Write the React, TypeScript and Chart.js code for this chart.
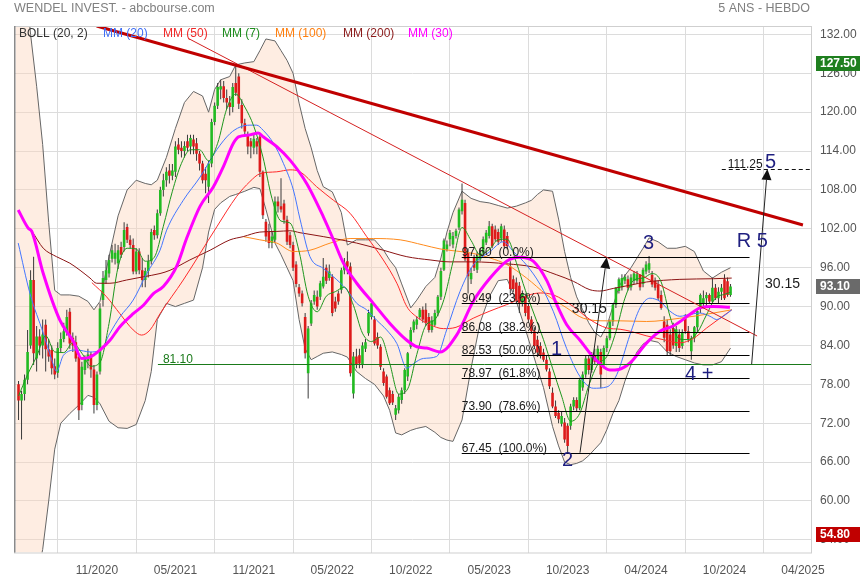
import React, { useEffect, useRef } from "react";
import { Chart, registerables } from "chart.js";

Chart.register(...registerables);

// ---------- weekly candles (week index 1..237) ----------
const FIRST_WEEK = 1;
const opens = [
  78.0, 75.5, 76.5, 78.7, 84.0, 94.1, 82.0, 85.4, 84.0, 87.2,
  83.4, 83.3, 80.8, 79.8, 83.6, 85.0, 86.1, 89.2, 85.2, 84.5,
  82.3, 74.8, 80.2, 81.6, 82.6, 80.3, 74.8, 80.0, 91.0, 94.1,
  95.1, 97.4, 97.4, 96.7, 99.2, 99.2, 102.3, 100.3, 99.5, 95.4,
  98.5, 95.6, 94.1, 95.5, 97.0, 101.8, 101.0, 104.4, 108.0, 109.5,
  111.0, 110.2, 110.8, 115.0, 114.5, 114.0, 115.5, 114.7, 115.8, 115.2,
  113.6, 112.1, 110.5, 108.5, 112.1, 118.5, 121.0, 123.5, 124.0, 122.2,
  121.5, 120.8, 124.5, 125.5, 121.1, 118.3, 116.5, 115.5, 114.5, 115.5,
  116.2, 110.8, 103.1, 101.5, 99.8, 100.3, 106.2, 105.5, 105.9, 103.4,
  101.0, 99.5, 96.5, 93.0, 92.0, 88.4, 79.7, 87.4, 90.8, 91.5,
  91.5, 93.1, 96.0, 94.4, 94.6, 90.8, 92.0, 92.6, 95.6, 97.0,
  96.2, 76.6, 82.3, 82.5, 81.0, 83.5, 85.9, 88.4, 88.0, 85.3,
  83.8, 80.0, 79.2, 77.1, 76.5, 73.3, 74.0, 75.6, 77.1, 79.2,
  83.8, 86.4, 87.2, 88.4, 89.5, 89.5, 88.4, 86.4, 87.2, 89.0,
  91.5, 95.7, 98.8, 100.4, 99.6, 100.9, 102.2, 104.7, 106.0, 98.3,
  94.2, 97.5, 95.7, 97.3, 98.3, 99.9, 100.9, 102.4, 101.9, 101.5,
  100.5, 101.9, 100.9, 96.2, 94.2, 93.7, 93.2, 90.6, 91.6, 90.1,
  88.0, 86.2, 84.9, 83.9, 82.9, 81.8, 80.0, 76.7, 74.6, 73.6,
  71.9, 72.1, 71.6, 71.6, 74.6, 75.6, 74.3, 77.5, 79.5, 82.0,
  80.2, 82.5, 81.5, 83.0, 81.0, 83.6, 85.1, 87.7, 90.3, 92.4,
  93.0, 94.0, 94.2, 93.0, 94.0, 94.0, 94.9, 93.5, 95.4, 95.7,
  94.9, 94.0, 93.4, 91.8, 87.7, 87.2, 85.7, 86.7, 83.9, 85.7,
  83.9, 88.2, 86.2, 83.1, 85.1, 86.8, 89.8, 90.5, 91.3, 91.8,
  90.8, 92.9, 91.3, 92.3, 94.2, 93.9, 91.8,
];
const highs = [
  78.5, 77.0, 79.5, 86.4, 95.6, 97.7, 87.0, 86.5, 88.0, 88.0,
  85.0, 84.0, 82.0, 84.5, 86.0, 87.5, 89.5, 89.8, 86.0, 85.5,
  82.8, 81.5, 82.5, 83.5, 83.0, 81.0, 80.0, 90.5, 95.5, 97.2,
  98.0, 99.5, 99.7, 99.5, 100.0, 103.0, 102.8, 101.0, 100.5, 99.0,
  99.0, 97.5, 96.0, 98.0, 102.0, 102.5, 105.0, 108.5, 110.5, 111.5,
  112.0, 112.0, 115.5, 116.0, 115.5, 115.5, 116.5, 116.5, 116.5, 116.0,
  114.0, 112.5, 111.5, 112.5, 119.0, 121.5, 124.5, 125.0, 124.8, 123.5,
  122.5, 124.5, 127.5, 126.0, 122.0, 119.0, 117.0, 116.0, 116.5, 116.0,
  116.5, 111.0, 103.5, 102.8, 101.5, 107.0, 107.0, 109.8, 106.5, 104.0,
  101.5, 100.0, 97.0, 93.5, 92.5, 89.0, 87.0, 91.0, 92.5, 92.5,
  94.0, 97.5, 96.5, 96.5, 95.0, 91.5, 92.5, 96.0, 97.5, 98.5,
  96.8, 83.0, 83.5, 83.5, 84.5, 85.0, 89.5, 91.0, 88.5, 86.0,
  84.2, 80.5, 79.5, 77.5, 77.0, 74.8, 76.5, 77.5, 80.5, 83.0,
  86.8, 88.0, 88.5, 89.8, 90.0, 90.5, 89.0, 88.5, 89.5, 91.8,
  96.0, 100.5, 100.2, 101.8, 101.5, 102.0, 105.3, 109.0, 106.5, 99.0,
  96.0, 98.0, 98.5, 99.0, 100.8, 101.8, 103.2, 102.8, 102.5, 102.0,
  102.8, 102.5, 101.5, 97.0, 94.8, 94.5, 93.8, 92.5, 92.0, 90.5,
  88.5, 86.8, 85.5, 84.5, 83.5, 82.5, 80.5, 77.5, 75.5, 74.0,
  73.8, 72.8, 72.0, 75.0, 76.0, 76.0, 79.0, 80.0, 82.5, 82.5,
  83.0, 83.5, 84.0, 83.5, 84.0, 85.5, 88.0, 90.5, 93.0, 94.5,
  95.0, 95.0, 94.8, 95.0, 95.5, 95.5, 95.0, 96.0, 97.0, 97.8,
  95.5, 94.5, 94.0, 92.5, 88.5, 88.0, 86.5, 87.5, 87.0, 86.5,
  86.5, 88.8, 87.0, 85.5, 87.0, 89.5, 92.0, 92.5, 92.2, 92.0,
  94.5, 93.5, 93.0, 93.5, 95.0, 94.5, 93.5,
];
const lows = [
  72.5, 69.5, 75.5, 78.0, 83.5, 81.0, 80.0, 82.5, 82.0, 80.0,
  81.5, 79.5, 78.8, 79.0, 83.0, 84.5, 85.5, 83.5, 83.0, 81.5,
  72.5, 74.0, 79.5, 80.5, 79.0, 73.5, 74.0, 79.5, 90.0, 93.5,
  94.5, 96.8, 96.5, 95.8, 97.5, 98.5, 99.8, 99.0, 95.0, 95.0,
  95.0, 93.0, 93.0, 94.5, 96.5, 100.3, 100.5, 104.0, 107.0, 108.5,
  109.0, 109.5, 110.0, 113.5, 113.0, 113.0, 114.0, 113.5, 113.5, 112.5,
  111.0, 109.0, 107.5, 106.0, 111.5, 118.0, 120.5, 122.0, 121.5, 120.5,
  119.5, 120.0, 122.5, 120.5, 117.5, 116.5, 113.5, 112.9, 113.5, 113.5,
  110.0, 103.5, 100.0, 99.0, 99.0, 100.0, 104.5, 104.5, 102.8, 99.5,
  99.0, 95.5, 93.0, 91.5, 90.0, 82.0, 75.8, 87.0, 90.3, 89.5,
  91.0, 92.8, 93.5, 94.0, 88.5, 89.2, 90.3, 92.0, 95.0, 95.0,
  79.2, 75.8, 80.5, 80.5, 80.5, 83.0, 85.5, 88.0, 84.0, 83.5,
  80.2, 77.8, 75.8, 74.8, 74.8, 72.5, 73.5, 75.0, 76.5, 78.5,
  83.5, 86.0, 86.5, 88.0, 87.5, 87.0, 86.0, 86.0, 87.0, 88.5,
  91.0, 95.5, 98.5, 99.3, 99.0, 100.5, 101.8, 104.2, 97.0, 92.0,
  93.5, 95.5, 95.2, 97.0, 98.0, 99.5, 100.5, 99.0, 100.0, 99.5,
  100.0, 99.0, 98.8, 92.0, 92.2, 90.5, 89.0, 90.0, 88.5, 87.5,
  85.8, 83.5, 82.5, 82.0, 81.5, 80.0, 77.3, 74.3, 72.8, 72.0,
  71.5, 69.0, 67.45, 71.0, 74.0, 73.8, 74.0, 77.0, 79.0, 79.5,
  79.8, 81.0, 81.0, 77.4, 80.5, 83.0, 84.8, 87.0, 89.8, 92.0,
  92.5, 93.5, 92.5, 92.5, 93.5, 93.5, 92.5, 93.0, 95.0, 95.2,
  93.0, 92.5, 91.0, 89.5, 84.5, 82.5, 82.5, 83.5, 83.0, 83.0,
  83.5, 85.8, 84.5, 81.8, 84.5, 86.0, 89.0, 90.0, 90.0, 90.5,
  90.5, 91.0, 90.5, 91.0, 91.0, 91.5, 91.5,
];
const closes = [
  75.5, 76.5, 78.7, 83.0, 94.1, 82.8, 85.4, 84.0, 85.7, 83.4,
  82.3, 80.5, 79.5, 83.6, 85.0, 86.2, 88.4, 84.3, 84.0, 82.0,
  74.0, 80.7, 81.9, 82.6, 80.3, 74.8, 79.5, 89.7, 94.4, 95.6,
  97.2, 98.7, 98.3, 98.7, 98.0, 101.8, 100.3, 99.5, 95.4, 98.5,
  95.6, 94.1, 95.5, 97.0, 101.5, 101.0, 104.4, 108.0, 109.5, 110.8,
  110.2, 111.0, 114.7, 114.2, 114.0, 114.8, 114.5, 116.0, 114.7, 113.6,
  112.1, 109.5, 109.5, 112.1, 118.5, 121.0, 123.9, 124.0, 122.2, 121.5,
  120.8, 123.9, 123.0, 121.3, 118.3, 117.0, 114.7, 114.7, 115.9, 114.7,
  110.8, 104.1, 100.8, 99.8, 100.8, 106.2, 105.5, 105.0, 103.4, 100.0,
  99.5, 96.0, 93.5, 92.0, 90.5, 82.8, 86.6, 90.5, 91.8, 90.0,
  93.6, 94.6, 94.0, 95.4, 89.0, 89.7, 90.8, 95.6, 96.8, 96.2,
  79.7, 82.3, 81.0, 81.2, 84.0, 84.5, 89.0, 90.5, 84.3, 84.0,
  80.7, 78.2, 76.1, 75.1, 75.2, 74.3, 76.1, 77.1, 80.2, 82.8,
  86.4, 87.7, 88.0, 89.5, 88.0, 87.5, 86.4, 87.9, 89.0, 91.5,
  95.5, 100.2, 99.6, 101.4, 100.9, 101.7, 105.0, 106.5, 97.3, 94.7,
  95.2, 96.0, 97.8, 98.3, 100.4, 101.4, 102.4, 99.3, 100.4, 100.0,
  102.4, 99.3, 99.3, 92.7, 92.7, 91.1, 90.6, 92.1, 89.0, 88.0,
  86.2, 83.9, 82.9, 82.4, 81.8, 80.3, 77.7, 74.6, 73.1, 72.6,
  73.1, 69.5, 68.5, 74.6, 75.6, 74.3, 78.7, 79.5, 82.0, 80.2,
  82.5, 81.5, 83.5, 79.5, 83.6, 85.1, 87.7, 90.3, 92.9, 94.2,
  94.4, 94.6, 92.9, 94.5, 95.1, 95.0, 93.0, 95.7, 96.5, 96.7,
  93.4, 92.9, 91.3, 89.8, 85.2, 83.1, 83.1, 84.0, 86.5, 83.6,
  86.0, 86.2, 85.0, 85.1, 86.8, 89.3, 91.8, 91.3, 91.8, 90.8,
  92.9, 91.3, 92.3, 92.9, 91.3, 91.8, 93.1,
];

// ---------- axes ----------
const xTickWeeks = [27, 53, 79, 105, 131, 157, 183, 209, 235, 261];
const xTickLabels = ["11/2020", "05/2021", "11/2021", "05/2022", "10/2022", "05/2023", "10/2023", "04/2024", "10/2024", "04/2025"];
const yTicks = [54, 60, 66, 72, 78, 84, 90, 96, 102, 108, 114, 120, 126, 132];

// ---------- Bollinger (20, 2) ----------
const bandWeeks = [0, 3, 5, 7, 9, 11, 13, 15, 18, 21, 24, 26, 28, 31, 34, 37, 40, 43, 45, 47, 50, 53, 56, 59, 62, 64, 66, 68, 71, 73, 76, 79, 81, 83, 86, 88, 90, 92, 94, 96, 98, 100, 102, 105, 108, 110, 113, 116, 119, 122, 124, 126, 128, 131, 133, 136, 139, 141, 143, 145, 148, 151, 154, 157, 160, 163, 166, 169, 171, 173, 175, 178, 180, 182, 184, 186, 188, 190, 192, 194, 196, 198, 200, 202, 204, 206, 208, 210, 213, 216, 219, 222, 225, 228, 231, 234, 237];
const bollUpper = [157, 142, 132, 124, 115, 103, 92.5, 91.8, 91.8, 91.6, 90.8, 89.5, 90.8, 97.7, 104, 108, 109.5, 109, 108.8, 109.5, 113, 117.5, 121.5, 123.2, 122.5, 120, 123.5, 125, 125.5, 127.3, 127.6, 127.8, 129.5, 131.3, 131, 129.5, 128, 126, 121.4, 117.5, 114.5, 111, 108.5, 107.7, 104.5, 99.5, 100.3, 100.3, 100.3, 98.7, 97.2, 96, 93.5, 89.8, 91, 93.1, 94.5, 97.5, 101.5, 104.5, 107.8, 106.7, 106.2, 106, 105.6, 105.2, 105.5, 106, 106.4, 107.3, 108, 107.8, 103.5, 98.5, 94.5, 91.5, 89.5, 87.5, 86, 85.3, 87, 90, 93, 94.8, 96, 97.5, 99, 100.6, 100, 99, 99, 99.3, 98.5, 95.5, 94.4, 95.3, 96];
const bollLower = [40, 42, 45, 48, 52.5, 60, 68, 72, 73.5, 74.8, 76.3, 76, 75, 72.3, 71.3, 71.2, 71.8, 75.5, 80, 88, 90.5, 90, 90.5, 91, 96, 101.5, 105, 106, 107, 107.3, 107.8, 108.4, 108.2, 105, 99.8, 98, 96, 94, 88, 83.5, 81.8, 82.3, 82.8, 83, 82.6, 82.2, 80, 78.9, 78, 76.2, 74, 70.5, 70.2, 70.9, 71.2, 71.5, 70.6, 69.8, 69.4, 69.2, 72.5, 80.5, 87.5, 91.5, 94, 94.2, 90.8, 86.5, 83.5, 80.5, 77.5, 71.5, 68.5, 66, 65.6, 65.8, 66.2, 67, 68, 69, 71, 73.5, 75.5, 78.5, 81, 83, 84.2, 84.8, 84.5, 83, 82.3, 81.8, 81.3, 81, 81, 81.5, 83.6];

// ---------- moving averages [week, value] ----------
const mm7 = [[1, 76.2], [4, 79.5], [7, 82.3], [10, 85.5], [13, 83.0], [16, 82.9], [19, 84.4], [22, 82.8], [25, 80.8], [28, 81.4], [31, 87.4], [34, 96.1], [37, 99.0], [40, 98.9], [43, 97.0], [46, 97.6], [49, 102.4], [52, 107.8], [55, 112.1], [58, 114.2], [61, 114.2], [64, 112.5], [67, 115.2], [70, 120.5], [73, 122.8], [76, 120.8], [79, 117.8], [82, 113.1], [85, 106.7], [88, 103.2], [91, 102.9], [94, 98.5], [97, 91.6], [100, 89.2], [103, 91.6], [106, 92.3], [109, 93.0], [112, 90.2], [115, 85.9], [118, 84.6], [121, 85.3], [124, 81.3], [127, 76.5], [130, 77.3], [133, 82.6], [136, 87.1], [139, 88.0], [142, 91.1], [145, 96.9], [148, 102.2], [151, 100.2], [154, 98.0], [157, 98.8], [160, 100.3], [163, 100.4], [166, 96.8], [169, 92.5], [172, 88.7], [175, 84.9], [178, 80.5], [181, 76.2], [184, 72.3], [187, 73.5], [190, 77.8], [193, 81.1], [196, 82.3], [199, 86.1], [202, 91.3], [205, 94.1], [208, 94.4], [211, 95.1], [214, 93.8], [217, 88.4], [220, 85.0], [223, 84.9], [226, 86.0], [229, 88.7], [232, 91.3], [235, 91.9], [237, 92.2]];
const mm20 = [[0.9, 99.8], [4.8, 92], [9.2, 85.9], [12, 81.8], [13.6, 80], [15.9, 82.5], [20.3, 83.3], [24.7, 83], [28, 83.2], [31.3, 85.9], [34.6, 88.4], [39, 91], [43.5, 95.1], [47.9, 98.7], [50.1, 101.8], [55.6, 106.4], [61.2, 110], [66.7, 114.2], [71.1, 116.7], [74.4, 117.7], [77.7, 118], [79.9, 118], [82.1, 117.2], [85.5, 115.2], [88.8, 112.1], [92.1, 108], [94.3, 103.5], [97.6, 97.7], [102, 95.9], [105.4, 94.6], [109.8, 92.6], [113.1, 90.5], [116.4, 89.5], [119.7, 87.9], [123, 86.4], [126.4, 84.3], [129.7, 80.5], [131.9, 81.2], [135.2, 82], [139.6, 82.3], [142.9, 86.4], [147.3, 92.3], [151.7, 96.4], [157.3, 98.5], [161.7, 100], [165, 98.5], [169.4, 96.4], [173.9, 93.4], [178.3, 89.2], [182.7, 83.5], [187.1, 79.2], [191.5, 77.4], [196, 77.6], [199.3, 79.5], [203.7, 85.7], [207, 89.8], [210.3, 91.3], [213.6, 90.8], [216.9, 89.3], [220.2, 88.5], [223.6, 88.8], [226.9, 89], [230.2, 88.5], [232.4, 88], [234.6, 88.5], [237.4, 89.5]];
const mm30 = [[0.9, 104.9], [4.2, 102.1], [5.4, 101.6], [9.2, 95.1], [14.7, 87.9], [19.2, 84.6], [21.9, 82], [24.7, 82.2], [28, 83.3], [31.3, 84.8], [34.6, 86.9], [39, 88.9], [42.4, 90.2], [45.7, 92], [49, 93.1], [53.4, 96.2], [56.7, 100.5], [61.2, 105.5], [65.6, 108.5], [68.9, 111.6], [72.2, 115.2], [73.9, 116.2], [77.7, 116.5], [80.5, 116.8], [82.1, 116.2], [86.6, 114.7], [91, 112.6], [96.5, 109], [102, 103.9], [105.4, 100.3], [108.7, 96.7], [113.1, 93.6], [118.6, 90.5], [124.1, 87.4], [129.7, 84.8], [133, 83.8], [136.3, 83.6], [140.7, 83], [146.2, 85.6], [151.7, 90.8], [157.3, 94.4], [162.8, 97], [167.2, 97.6], [171.6, 97], [176.1, 94], [179.4, 90.3], [182.7, 87.2], [187.1, 84.8], [190.4, 82.8], [193, 81.5], [197, 80.2], [200, 80.3], [203.7, 81.3], [209.2, 84.4], [213.6, 86.2], [218, 87], [223.6, 88.8], [226.9, 89.8], [231.3, 90], [236.8, 89.9]];
const mm50 = [[25.3, 93.7], [30.2, 91.5], [34.6, 88.9], [39, 86.4], [41.8, 85.6], [44.6, 86.4], [47.9, 88.9], [55.6, 94.1], [66.7, 102.3], [73.3, 107], [77.7, 109.3], [81, 110.5], [86.6, 110.8], [91, 111.1], [94.3, 110.8], [99.8, 108.5], [105.4, 106.4], [110.9, 104.4], [116.4, 100.8], [121.9, 97.2], [126.4, 93.6], [129.7, 90], [133, 88.4], [137.4, 87.2], [141.8, 86.6], [146, 86.8], [151.7, 88.2], [162.8, 90.3], [173.9, 92.1], [178.3, 91.8], [184.9, 90], [190.4, 88], [196, 86.7], [200.4, 86.5], [203.7, 86.2], [209, 85.5], [214.7, 84.9], [220.2, 84.4], [224.7, 85.1], [229.1, 86.7], [233.5, 88.2], [237.4, 89.5]];
const mm100 = [[75.5, 100.8], [81, 100.3], [86.6, 99.8], [92.1, 98.5], [97.6, 98.7], [104.3, 99.8], [110.9, 100.5], [118.6, 100.5], [127.5, 100.3], [135.2, 99.5], [140.7, 98.9], [151.7, 98.2], [157.3, 97.5], [162.8, 96.5], [169.4, 94.4], [176.1, 91.8], [182.7, 89.8], [188.2, 88.2], [196, 87.8], [200.4, 87.8], [209.2, 87.7], [220.2, 88.2], [231.3, 89], [237.4, 89.5]];
const mm200 = [[0.9, 104.9], [4.2, 102.1], [5.4, 101.6], [9.2, 99], [13.6, 97.7], [18, 96.7], [21.4, 95.6], [24.7, 94.4], [26.9, 93.6], [31.3, 93.6], [36.8, 94.1], [42.4, 94.6], [47.9, 95.1], [51.2, 95.6], [57.8, 97.2], [64.5, 98.7], [71.1, 100.3], [75.5, 100.8], [81, 101.5], [86.6, 101.6], [91, 101.7], [94.3, 101.4], [102, 100.8], [113.1, 99.8], [121.9, 98.7], [129.7, 97.7], [137.4, 97.2], [144, 96.9], [151.7, 96.9], [162.8, 96.6], [171.6, 96.1], [179.4, 94.9], [184.9, 93.9], [190.4, 92.6], [193.7, 92.4], [198.1, 92.8], [203.7, 93.3], [209.2, 93.8], [220.2, 94.2], [231.3, 94.3], [237.4, 94.4]];

// ---------- drawn analysis ----------
const fibLevels = [97.6, 90.49, 86.08, 82.53, 78.97, 73.9, 67.45];
const fibPercents = ["0.0%", "23.6%", "38.2%", "50.0%", "61.8%", "78.6%", "100.0%"];
const fibSpan = [147.9, 243.3];
const supportLevel = 81.1;
const supportStart = 47.2;
const targetLevel = 111.25;
const targetStart = 234.1;
const majorTrend = [[26.9, 133.3], [261.0, 102.6]];
const minorTrend = [[57.2, 131.4], [245.8, 85.46]];
const arrowOne = [[187.1, 67.45], [195.95, 97.6]];
const arrowTwo = [[244.0, 81.1], [249.2, 111.25]];
const moveLabels = [{ t: "30.15", w: 184.4, v: 89.0 }, { t: "30.15", w: 248.4, v: 92.8 }];
const waveLabels = [
  { t: "1", w: 177.5, v: 82.5 },
  { t: "2", w: 181.1, v: 65.4 },
  { t: "3", w: 208.0, v: 98.9 },
  { t: "4 +", w: 221.9, v: 78.7 },
  { t: "R 5", w: 239.1, v: 99.27 },
  { t: "5", w: 248.4, v: 111.4 },
];
const priceTags = [
  { v: 127.5, bg: "#1f7f1f" },
  { v: 93.1, bg: "#6a6a6a" },
  { v: 54.8, bg: "#c00000" },
];
const legendItems = [
  { t: "BOLL (20, 2)", c: "#333333", x: 19 },
  { t: "MM (20)", c: "#3d6df5", x: 103 },
  { t: "MM (50)", c: "#f02828", x: 163 },
  { t: "MM (7)", c: "#1e8c1e", x: 222 },
  { t: "MM (100)", c: "#ff7f0e", x: 275 },
  { t: "MM (200)", c: "#8b1a1a", x: 343 },
  { t: "MM (30)", c: "#ff00ff", x: 408 },
];

const FONT = 'Arial, "Liberation Sans", sans-serif';
const f = (px: number, bold = false) => `${bold ? "bold " : ""}${px}px ${FONT}`;

const overlayPlugin = {
  id: "overlay",
  afterDatasetsDraw(chart: any) {
    const { ctx, chartArea: a } = chart;
    const xs = chart.scales.x;
    const ys = chart.scales.y;
    const X = (w: number) => xs.getPixelForValue(w);
    const Y = (v: number) => ys.getPixelForValue(v);
    const snap = (p: number) => Math.round(p) + 0.5;

    const seg = (pts: number[][], color: string, width: number) => {
      ctx.beginPath();
      ctx.strokeStyle = color;
      ctx.lineWidth = width;
      ctx.moveTo(X(pts[0][0]), Y(pts[0][1]));
      ctx.lineTo(X(pts[1][0]), Y(pts[1][1]));
      ctx.stroke();
    };
    const arrow = (pts: number[][]) => {
      const x0 = X(pts[0][0]), y0 = Y(pts[0][1]);
      const x1 = X(pts[1][0]), y1 = Y(pts[1][1]);
      const ang = Math.atan2(y1 - y0, x1 - x0);
      const len = 11, hw = 5;
      const bx = x1 - len * Math.cos(ang), by = y1 - len * Math.sin(ang);
      ctx.beginPath();
      ctx.strokeStyle = "#222";
      ctx.lineWidth = 1;
      ctx.moveTo(x0, y0);
      ctx.lineTo(bx, by);
      ctx.stroke();
      ctx.beginPath();
      ctx.fillStyle = "#111";
      ctx.moveTo(x1, y1);
      ctx.lineTo(bx + hw * Math.sin(ang), by - hw * Math.cos(ang));
      ctx.lineTo(bx - hw * Math.sin(ang), by + hw * Math.cos(ang));
      ctx.closePath();
      ctx.fill();
    };

    ctx.save();
    ctx.beginPath();
    ctx.rect(a.left, a.top, a.right - a.left, a.bottom - a.top);
    ctx.clip();

    // support line 81.10
    const sy = snap(Y(supportLevel));
    ctx.beginPath();
    ctx.strokeStyle = "#1a7a1a";
    ctx.lineWidth = 1;
    ctx.moveTo(X(supportStart), sy);
    ctx.lineTo(a.right, sy);
    ctx.stroke();
    ctx.font = f(12);
    ctx.fillStyle = "#1a7a1a";
    ctx.textBaseline = "alphabetic";
    ctx.textAlign = "left";
    ctx.fillText(supportLevel.toFixed(2), X(supportStart) + 5, sy - 2);

    // fibonacci levels
    fibLevels.forEach((v, k) => {
      const yy = snap(Y(v));
      ctx.beginPath();
      ctx.strokeStyle = "#000";
      ctx.lineWidth = 1;
      ctx.moveTo(X(fibSpan[0]), yy);
      ctx.lineTo(X(fibSpan[1]), yy);
      ctx.stroke();
      ctx.font = f(12);
      ctx.fillStyle = "#1a1a1a";
      ctx.fillText(`${v.toFixed(2)}  (${fibPercents[k]})`, X(fibSpan[0]), yy - 2);
    });

    // trend lines
    seg(minorTrend, "#d42020", 1);
    seg(majorTrend, "#c00000", 3);

    // target dashed line
    const ty = snap(Y(targetLevel));
    ctx.beginPath();
    ctx.setLineDash([4, 3]);
    ctx.strokeStyle = "#111";
    ctx.lineWidth = 1;
    ctx.moveTo(X(targetStart), ty);
    ctx.lineTo(a.right, ty);
    ctx.stroke();
    ctx.setLineDash([]);
    ctx.font = f(12);
    ctx.fillStyle = "#1a1a1a";
    ctx.fillText(targetLevel.toFixed(2), X(targetStart) + 6, ty - 2);

    // arrows
    arrow(arrowOne);
    arrow(arrowTwo);
    ctx.font = f(14);
    ctx.fillStyle = "#1a1a1a";
    moveLabels.forEach((m) => ctx.fillText(m.t, X(m.w), Y(m.v)));

    // wave labels
    ctx.font = f(20);
    ctx.fillStyle = "#1f1f80";
    waveLabels.forEach((m) => ctx.fillText(m.t, X(m.w), Y(m.v)));

    // legend
    ctx.font = f(12);
    ctx.textBaseline = "middle";
    legendItems.forEach((l) => {
      ctx.fillStyle = l.c;
      ctx.fillText(l.t, l.x, 33.5);
    });
    ctx.restore();

    // frame
    ctx.save();
    ctx.strokeStyle = "#cfcfcf";
    ctx.lineWidth = 1;
    ctx.strokeRect(a.left + 0.5, a.top + 0.5, a.right - a.left, a.bottom - a.top);
    ctx.beginPath();
    ctx.strokeStyle = "#8a8a8a";
    ctx.lineWidth = 1.5;
    ctx.moveTo(a.left + 0.75, a.top);
    ctx.lineTo(a.left + 0.75, a.bottom);
    ctx.stroke();

    // price tags
    priceTags.forEach((p) => {
      const yy = Y(p.v);
      ctx.fillStyle = p.bg;
      ctx.fillRect(816, Math.round(yy - 7.5), 44, 15);
      ctx.fillStyle = "#fff";
      ctx.font = f(12, true);
      ctx.textBaseline = "middle";
      ctx.textAlign = "left";
      ctx.fillText(p.v.toFixed(2), 820, yy + 0.5);
    });

    // titles
    ctx.fillStyle = "#808080";
    ctx.font = f(12.5);
    ctx.textBaseline = "middle";
    ctx.textAlign = "left";
    ctx.fillText("WENDEL INVEST. - abcbourse.com", 14, 8.5);
    ctx.textAlign = "right";
    ctx.fillText("5 ANS - HEBDO", 810, 8.5);
    ctx.restore();
  },
};

const toPts = (arr: number[][]) => arr.map((p) => ({ x: p[0], y: p[1] }));

export default function App() {
  const ref = useRef<HTMLCanvasElement | null>(null);

  useEffect(() => {
    if (!ref.current) return;
    const weeks = closes.map((_, k) => FIRST_WEEK + k);
    const up = "#22bb22";
    const down = "#dd1a1a";
    const bodyColors = closes.map((c, k) => (c >= opens[k] ? up : down));

    const lineDs = (label: string, pts: number[][], color: string, width: number, order: number) => ({
      type: "line" as const,
      label,
      data: toPts(pts),
      borderColor: color,
      borderWidth: width,
      pointRadius: 0,
      fill: false,
      cubicInterpolationMode: "monotone" as const,
      order,
    });

    const chart = new Chart(ref.current, {
      type: "line",
      data: {
        datasets: [
          {
            type: "line",
            label: "BOLL up",
            data: bandWeeks.map((w, k) => ({ x: w, y: bollUpper[k] })),
            borderColor: "#666",
            borderWidth: 1,
            pointRadius: 0,
            fill: "+1",
            backgroundColor: "rgba(252, 212, 186, 0.42)",
            order: 20,
          },
          {
            type: "line",
            label: "BOLL low",
            data: bandWeeks.map((w, k) => ({ x: w, y: bollLower[k] })),
            borderColor: "#666",
            borderWidth: 1,
            pointRadius: 0,
            fill: false,
            order: 19,
          },
          {
            type: "bar",
            label: "wick",
            data: weeks.map((w, k) => ({ x: w, y: [lows[k], highs[k]] })),
            backgroundColor: "#3a3a3a",
            borderWidth: 0,
            barThickness: 1,
            grouped: false,
            inflateAmount: 0,
            order: 15,
          } as any,
          {
            type: "bar",
            label: "body",
            data: weeks.map((w, k) => ({ x: w, y: [opens[k], closes[k]] })),
            backgroundColor: bodyColors,
            borderWidth: 0,
            barThickness: 2.6,
            grouped: false,
            minBarLength: 1,
            inflateAmount: 0,
            order: 14,
          } as any,
          lineDs("MM (100)", mm100, "#ff8a1c", 1, 8),
          lineDs("MM (200)", mm200, "#8b1414", 1, 7),
          lineDs("MM (50)", mm50, "#ff2a2a", 1, 6),
          lineDs("MM (20)", mm20, "#4275ff", 1, 5),
          lineDs("MM (7)", mm7, "#1e961e", 1, 4),
          lineDs("MM (30)", mm30, "#ff00ff", 3, 3),
        ] as any,
      },
      options: {
        responsive: false,
        animation: false,
        events: [],
        layout: { padding: { left: 14, top: 26, right: 0, bottom: 0 } },
        plugins: { legend: { display: false }, tooltip: { enabled: false } },
        scales: {
          x: {
            type: "linear",
            min: -0.5,
            max: 263.67,
            offset: false,
            afterBuildTicks: (s: any) => {
              s.ticks = xTickWeeks.map((v) => ({ value: v }));
            },
            afterFit: (s: any) => {
              s.height = 27.5;
            },
            ticks: {
              autoSkip: false,
              maxRotation: 0,
              padding: 11,
              color: "#555",
              font: { family: FONT, size: 12 },
              callback: (v: any) => {
                const k = xTickWeeks.indexOf(Number(v));
                return k >= 0 ? xTickLabels[k] : "";
              },
            },
            grid: { color: "#dcdcdc", drawTicks: false },
            border: { display: false },
          },
          y: {
            type: "linear",
            position: "right",
            min: 52.05,
            max: 133.3,
            afterBuildTicks: (s: any) => {
              s.ticks = yTicks.map((v) => ({ value: v }));
            },
            afterFit: (s: any) => {
              s.width = 49;
            },
            ticks: {
              padding: 9,
              color: "#555",
              font: { family: FONT, size: 12 },
              callback: (v: any) => Number(v).toFixed(2),
            },
            grid: { color: "#dcdcdc", drawTicks: false },
            border: { display: false },
          },
        },
      },
      plugins: [overlayPlugin],
    });
    return () => chart.destroy();
  }, []);

  return (
    <div style={{ position: "absolute", left: 0, top: 0, width: 860, height: 580, background: "#fff" }}>
      <canvas ref={ref} width={860} height={580} style={{ display: "block" }} />
    </div>
  );
}
